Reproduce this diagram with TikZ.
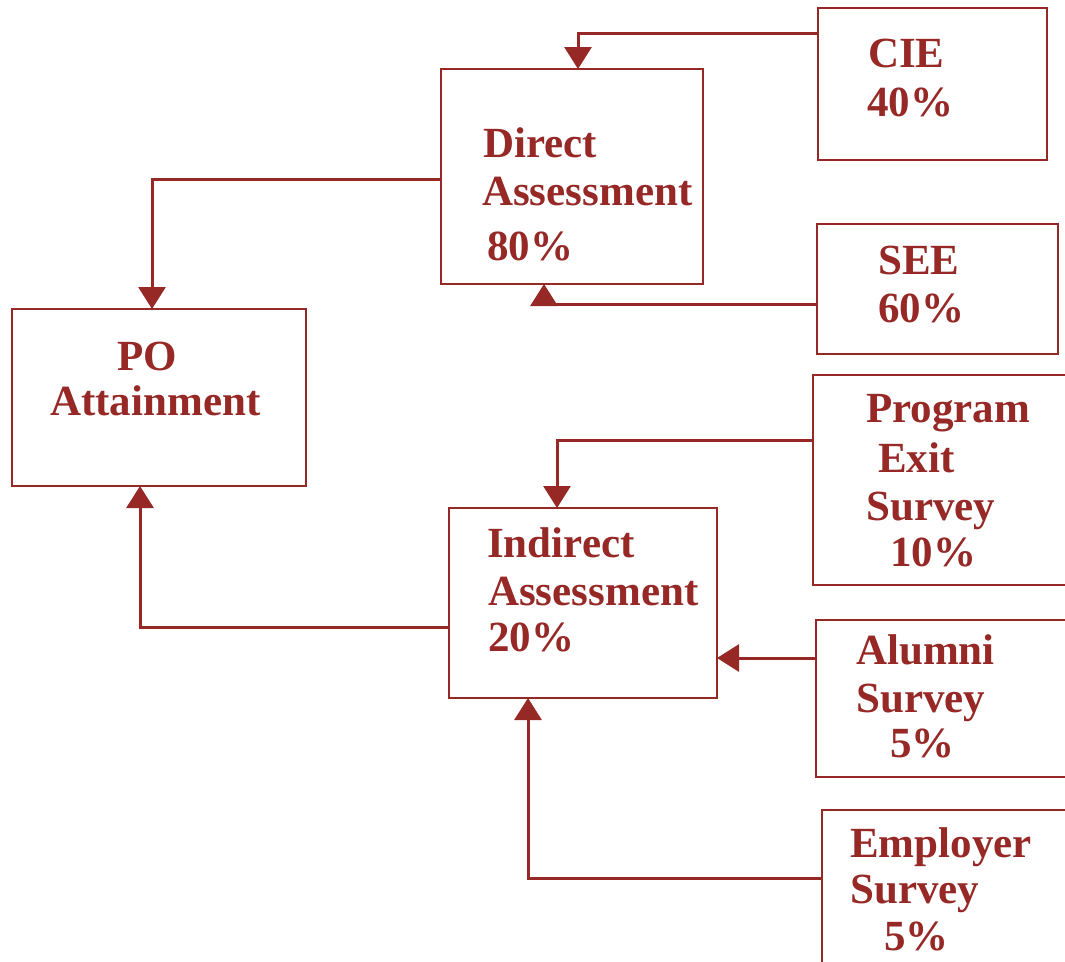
\documentclass[tikz,border=0pt]{standalone}
\usepackage{fontspec}
\setmainfont{Liberation Serif}
\usetikzlibrary{arrows.meta,calc}
\definecolor{dr}{RGB}{150,40,38}
\begin{document}
\begin{tikzpicture}[x=1pt,y=-1pt,
  box/.style={draw=dr,line width=1.5pt,rectangle,inner sep=0pt,outer sep=0pt,anchor=north west},
  lbl/.style={anchor=base west,inner sep=0pt,text=dr,font=\fontsize{43}{50}\selectfont\bfseries},
  conn/.style={draw=dr,line width=3pt,-{Triangle[width=27pt,length=22pt]}}]
\useasboundingbox (0,0) rectangle (1065,961);
\clip (0,0) rectangle (1065,961);
% boxes
\node[box,minimum width=262pt,minimum height=215pt] (direct) at (441,69) {};
\node[box,minimum width=229pt,minimum height=152pt] (cie) at (818,8) {};
\node[box,minimum width=241pt,minimum height=130pt] (see) at (817,224) {};
\node[box,minimum width=294pt,minimum height=177pt] (po) at (12,309) {};
\node[box,minimum width=268pt,minimum height=190pt] (indirect) at (449,508) {};
\node[box,minimum width=262pt,minimum height=210pt] (pes) at (813,375) {};
\node[box,minimum width=262pt,minimum height=157pt] (alumni) at (816,620) {};
\node[box,minimum width=262pt,minimum height=170pt] (employer) at (822,810) {};
% labels
\node[lbl] (t1) at (483,157) {Direct};
\node[lbl] (t2) at (482,205) {Assessment};
\node[lbl] (t3) at (487,260) {80\%};
\node[lbl] (t4) at (868,67) {CIE};
\node[lbl] (t5) at (867,116) {40\%};
\node[lbl] (t6) at (878,274) {SEE};
\node[lbl] (t7) at (878,322) {60\%};
\node[lbl] (t8) at (117,370) {PO};
\node[lbl] (t9) at (50,415) {Attainment};
\node[lbl] (t10) at (866,422) {Program};
\node[lbl] (t11) at (878,472) {Exit};
\node[lbl] (t12) at (866,520) {Survey};
\node[lbl] (t13) at (890,566) {10\%};
\node[lbl] (t14) at (487,557) {Indirect};
\node[lbl] (t15) at (488,605) {Assessment};
\node[lbl] (t16) at (488,651) {20\%};
\node[lbl] (t17) at (856,664) {Alumni};
\node[lbl] (t18) at (856,712) {Survey};
\node[lbl] (t19) at (890,757) {5\%};
\node[lbl] (t20) at (850,857) {Employer};
\node[lbl] (t21) at (850,903) {Survey};
\node[lbl] (t22) at (884,950) {5\%};
% connectors
\draw[conn] ($(cie.north west)+(0,25)$) -| ($(direct.north west)+(137,0)$);
\draw[conn] ($(see.north west)+(0,80)$) -| ($(direct.south west)+(103,0)$);
\draw[conn] ($(direct.north west)+(0,110)$) -| ($(po.north west)+(140,0)$);
\draw[conn] ($(pes.north west)+(0,65)$) -| ($(indirect.north west)+(108,0)$);
\draw[conn] ($(alumni.north west)+(0,38)$) -- ($(indirect.north east)+(0,150)$);
\draw[conn] ($(employer.north west)+(0,68)$) -| ($(indirect.south west)+(79,0)$);
\draw[conn] ($(indirect.north west)+(0,119)$) -| ($(po.south west)+(128,0)$);
\end{tikzpicture}
\end{document}
